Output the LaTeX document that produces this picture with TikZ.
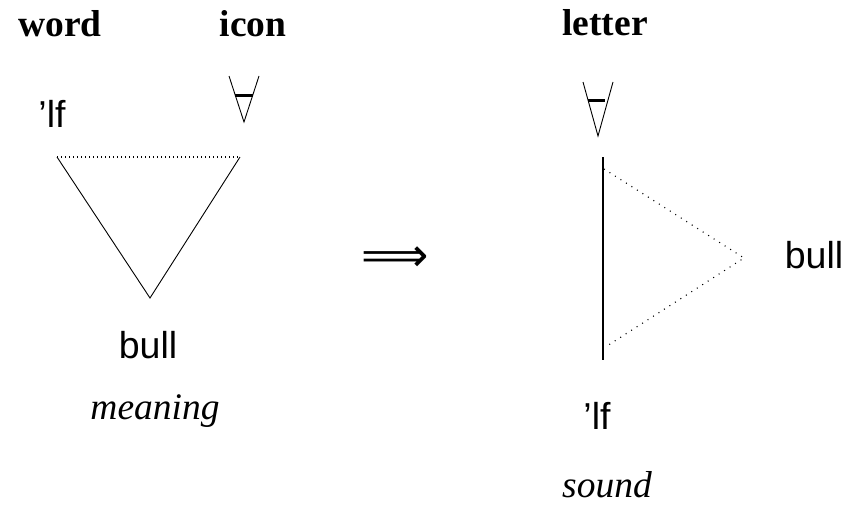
\documentclass[tikz,border=0pt]{standalone}
\usepackage{fontspec}
\setmainfont{Liberation Serif}
\newfontfamily\labsans{Liberation Sans}
\newfontfamily\symfont{DejaVu Sans}
\tikzset{
  title/.style={anchor=base, inner sep=0pt, font=\fontsize{37.5}{40}\selectfont\bfseries},
  lab/.style={anchor=base, inner sep=0pt, font=\fontsize{37.5}{40}\selectfont\labsans},
  role/.style={anchor=base, inner sep=0pt, font=\fontsize{37.5}{40}\selectfont\itshape},
  edge/.style={line width=0.9pt, line join=miter},
  dotline/.style={line width=1.1pt, dash pattern=on 1pt off 3pt},
  dotline2/.style={line width=1.1pt, dash pattern=on 1pt off 5.5pt},
  bar/.style={line width=3pt},
  thick bar/.style={line width=2.2pt}
}
\begin{document}
\begin{tikzpicture}[x=1pt,y=-1pt]
\useasboundingbox (0,0) rectangle (846,506);
% titles
\node[title] (word) at (60,36) {word};
\node[title] (icon) at (253,36) {icon};
\node[title] (letter) at (605,35) {letter};
% left labels
\node[lab] (lfL) at (52,127) {’lf};
\node[lab] (bullL) at (148,358) {bull};
\node[role] (meaning) at (155,419) {meaning};
% right labels
\node[lab] (lfR) at (597,429) {’lf};
\node[role] (sound) at (607,497) {sound};
\node[lab] (bullR) at (814,268) {bull};
% arrow
\node[inner sep=0pt, font=\fontsize{47}{47}\selectfont\symfont] (arr) at (395,259) {⟹};
% left icon
\coordinate (iL1) at (229,76);
\coordinate (iL2) at (244,122);
\coordinate (iL3) at (259,76);
\draw[edge] (iL1) -- (iL2) -- (iL3);
\coordinate (bL1) at (235,95);
\coordinate (bL2) at (253,95);
\draw[bar] (bL1) -- (bL2);
% right icon
\coordinate (iR1) at (583,82);
\coordinate (iR2) at (598,136);
\coordinate (iR3) at (613,82);
\draw[edge] (iR1) -- (iR2) -- (iR3);
\coordinate (bR1) at (588,100);
\coordinate (bR2) at (605,100);
\draw[bar] (bR1) -- (bR2);
% left triangle
\coordinate (tA) at (57,157);
\coordinate (tB) at (240,157);
\coordinate (tC) at (150,298);
\draw[dotline] (tA) -- (tB);
\draw[edge] (tA) -- (tC) -- (tB);
% right triangle
\coordinate (vT) at (603,157);
\coordinate (vB) at (603,360);
\draw[thick bar] (vT) -- (vB);
\coordinate (dT) at (604,169);
\coordinate (dA) at (744,258);
\coordinate (dB) at (607,346);
\draw[dotline2] (dT) -- (dA) -- (dB);
\end{tikzpicture}
\end{document}
